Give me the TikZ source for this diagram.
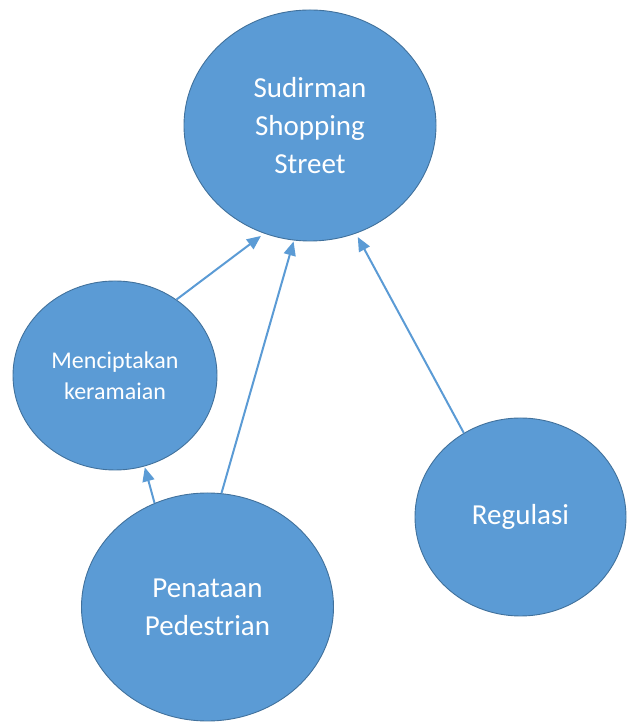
\documentclass[tikz,border=0pt]{standalone}
\usepackage{fontspec}
\setmainfont{Carlito}
\usetikzlibrary{shapes.geometric,arrows.meta}
\definecolor{cfill}{HTML}{5B9BD5}
\definecolor{cline}{HTML}{41719C}
\definecolor{carrow}{HTML}{5B9BD5}
\begin{document}
\begin{tikzpicture}[x=1pt,y=1pt,
  bub/.style={ellipse,fill=cfill,draw=cline,line width=0.9pt,inner sep=0pt,text=white,align=center},
  bigtxt/.style={font=\fontsize{29}{38}\selectfont},
  smalltxt/.style={font=\fontsize{24}{31}\selectfont},
  conn/.style={draw=carrow,line width=2pt,-{Triangle[length=14pt,width=12pt]}}]
\useasboundingbox (0,0) rectangle (634,722);
\node[bub,bigtxt,minimum width=252pt,minimum height=231pt] (S) at (310,596.5) {Sudirman\\Shopping\\Street};
\node[bub,smalltxt,minimum width=204pt,minimum height=189pt] (M) at (115,346.5) {Menciptakan\\keramaian};
\node[bub,bigtxt,minimum width=252pt,minimum height=228pt] (P) at (207.5,115) {Penataan\\Pedestrian};
\node[bub,bigtxt,minimum width=211pt,minimum height=198pt] (R) at (520.5,205) {Regulasi};
\draw[conn,shorten >=4pt] (M.51) -- (S.247);
\draw[conn,shorten >=1pt] (P.83) -- (S.262);
\draw[conn,shorten >=4pt] (R.124) -- (S.293);
\draw[conn,shorten >=1pt] (P.117) -- (M.288);
\end{tikzpicture}
\end{document}
